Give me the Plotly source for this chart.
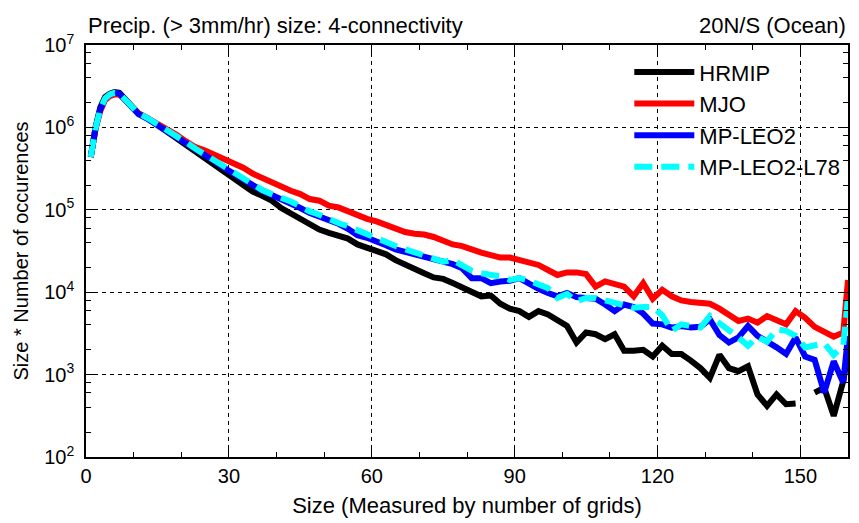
import plotly.graph_objects as go

sizes = [1, 2, 3, 4, 5, 6, 7, 8, 9,
         11, 13, 15, 17, 19, 21, 23, 25, 27, 29, 31, 33, 35, 37, 39, 41, 43, 45, 47, 49,
         51, 53, 55, 57, 59, 61, 63, 65, 67, 69, 71, 73, 75, 77, 79, 81, 83, 85, 87, 89,
         91, 93, 95, 97, 99, 101, 103, 105, 107, 109, 111, 113, 115, 117, 119, 121, 123, 125, 127, 129,
         131, 133, 135, 137, 139, 141, 143, 145, 147, 149, 151, 153, 155, 157, 159, 160]

hrmip = [437000, 1000000, 1740000, 2340000, 2570000, 2690000, 2630000, 2290000, 1950000,
         1480000, 1290000, 1070000, 891000, 724000, 603000, 490000, 407000, 339000, 282000,
         234000, 200000, 166000, 148000, 129000, 105000, 91200, 79400, 67600, 57500,
         52500, 49000, 44700, 38000, 34700, 31600, 28800, 24500, 21400, 18600,
         17000, 15100, 14500, 12900, 11500, 10000, 8910, 9120, 7240, 6310,
         5890, 5010, 5890, 5370, 4570, 3890, 2450, 3240, 3090, 2690,
         3090, 1950, 1950, 2000, 1660, 2240, 1780, 1780, 1480, 1200,
         912, 1740, 1200, 1100, 1260, 575, 417, 575, 437, 447,
         None, 603, 692, 316, 832, 1860]

mjo = [437000, 955000, 1580000, 2140000, 2400000, 2510000, 2510000, 2190000, 1910000,
       1480000, 1290000, 1120000, 977000, 813000, 676000, 575000, 525000, 468000, 407000,
       363000, 324000, 275000, 245000, 214000, 186000, 170000, 155000, 135000, 129000,
       112000, 107000, 95500, 83200, 77600, 72400, 66100, 58900, 53700, 51300,
       50100, 46800, 41700, 38000, 36300, 32400, 30200, 28200, 26300, 26300,
       24500, 22900, 21400, 18600, 16200, 17400, 17400, 16600, 11700, 13500,
       12600, 11700, 8910, 12900, 8320, 10700, 8910, 7940, 7590, 7410,
       7240, 6310, 5250, 4470, 4790, 4270, 5130, 4570, 4070, 5890,
       4900, 3800, 3310, 2880, 3240, 14100]

mp_leo2 = [437000, 977000, 1660000, 2240000, 2510000, 2630000, 2570000, 2240000, 1910000,
           1450000, 1260000, 1070000, 912000, 759000, 631000, 537000, 457000, 389000, 324000,
           275000, 234000, 195000, 170000, 151000, 135000, 120000, 105000, 91200, 83200,
           74100, 67600, 58900, 49000, 45700, 41700, 37200, 33100, 30900, 28800,
           26900, 24500, 22900, 21900, 19500, 14800, 14800, 12900, 13500, 13800,
           14800, 12600, 11000, 9770, 8910, 9770, 8710, 8510, 8320, 7080,
           5890, 7080, 6610, 5500, 4170, 4070, 3720, 3890, 3720, 3800,
           4680, 3020, 2450, 2820, 3890, 2950, 2450, 2140, 1780, 2820,
           1660, 1510, 603, 1450, 794, 2950]

mp_leo2_l78 = [437000, 977000, 1660000, 2240000, 2510000, 2630000, 2570000, 2240000, 1910000,
               1480000, 1290000, 1100000, 933000, 776000, 661000, 550000, 468000, 398000, 331000,
               282000, 240000, 200000, 174000, 155000, 141000, 126000, 110000, 95500, 87100,
               75900, 69200, 63100, 56200, 50100, 43700, 40700, 36300, 33100, 30200,
               28200, 25700, 23400, 24500, 20900, 18200, 17000, 16200, 15500, 14100,
               14800, 13800, 12600, 11200, 8510, 9550, 7760, 8510, 8510, 7940,
               7410, 7080, 6460, 6610, 6610, 5250, 3390, 4070, 3890, 3720,
               5130, 4270, 3390, 2820, 2240, 2880, 2510, 3550, 3390, 2950,
               2140, 2290, 2400, 1740, 2240, 8510]

series_names = ["HRMIP", "MJO", "MP-LEO2", "MP-LEO2-L78"]
series_values = [hrmip, mjo, mp_leo2, mp_leo2_l78]
series_colors = ["#000000", "#ff0000", "#0000ff", "#00ffff"]
series_dash = ["solid", "solid", "solid", "18px,9px"]

x_tick_vals = [0, 30, 60, 90, 120, 150]
y_tick_vals = [1e2, 1e3, 1e4, 1e5, 1e6, 1e7]
y_tick_text = ["10<sup>2</sup>", "10<sup>3</sup>", "10<sup>4</sup>",
               "10<sup>5</sup>", "10<sup>6</sup>", "10<sup>7</sup>"]
y_minor_vals = [m * d for d in [1e2, 1e3, 1e4, 1e5, 1e6] for m in (2, 4, 6, 8)]

FONT = "Liberation Sans, Arial, Helvetica, sans-serif"

fig = go.Figure()
for name, vals, col, dash in zip(series_names, series_values, series_colors, series_dash):
    fig.add_trace(go.Scatter(
        x=sizes, y=vals, mode="lines", name=name,
        line=dict(color=col, width=6, dash=dash),
        connectgaps=False,
    ))

axis_common = dict(
    showline=True, linecolor="black", linewidth=1.5, mirror="allticks",
    ticks="inside", tickcolor="black", ticklen=8, tickwidth=1,
    showgrid=True, gridcolor="black", griddash="4px,4px", gridwidth=1,
    zeroline=False,
    tickfont=dict(family=FONT, size=20, color="black"),
)

fig.update_xaxes(
    range=[0, 160], tickvals=x_tick_vals,
    minor=dict(dtick=10, ticks="inside", ticklen=5, tickcolor="black", showgrid=False),
    title=dict(text="Size (Measured by number of grids)",
               font=dict(family=FONT, size=22, color="black"), standoff=12),
    **axis_common,
)
fig.update_yaxes(
    type="log", range=[2, 7], tickvals=y_tick_vals, ticktext=y_tick_text,
    ticklabelstandoff=6,
    minor=dict(tickvals=y_minor_vals, ticks="inside", ticklen=5, tickcolor="black", showgrid=False),
    title=dict(text="Size * Number of occurences",
               font=dict(family=FONT, size=20, color="black"), standoff=10),
    **axis_common,
)

fig.update_layout(
    width=859, height=523,
    margin=dict(l=86, r=9, t=45, b=63),
    paper_bgcolor="white", plot_bgcolor="white",
    font=dict(family=FONT, size=20, color="black"),
    showlegend=True,
    legend=dict(x=0.713, y=0.985, xanchor="left", yanchor="top",
                bgcolor="rgba(0,0,0,0)", font=dict(family=FONT, size=22, color="black"),
                itemwidth=60, tracegroupgap=0),
    annotations=[
        dict(text="Precip. (> 3mm/hr) size: 4-connectivity", xref="paper", yref="paper",
             x=0.0, y=1.0, xanchor="left", yanchor="bottom", yshift=5, showarrow=False,
             font=dict(family=FONT, size=22, color="black")),
        dict(text="20N/S (Ocean)", xref="paper", yref="paper",
             x=1.0, y=1.0, xanchor="right", yanchor="bottom", yshift=5, showarrow=False,
             font=dict(family=FONT, size=22, color="black")),
    ],
)

fig.write_html("out.html")
